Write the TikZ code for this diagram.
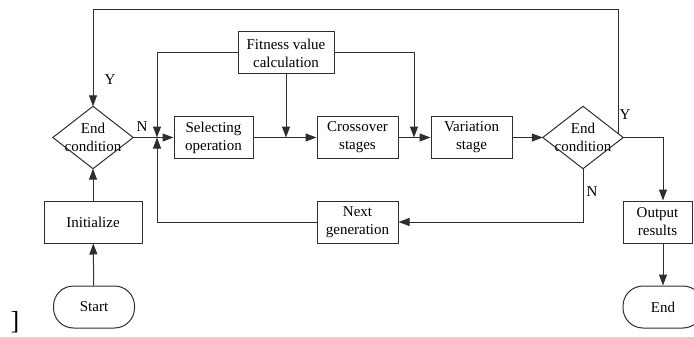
\documentclass[tikz,border=0pt]{standalone}
\usepackage{fontspec}
\setmainfont{Liberation Serif}
\usetikzlibrary{arrows.meta,calc}
\definecolor{lc}{HTML}{2E2E2E}
\begin{document}
\begin{tikzpicture}[x=1pt,y=-1pt,
  every node/.style={font=\fontsize{15}{18}\selectfont, text=black},
  box/.style={draw=lc, line width=1pt, align=center, inner sep=0pt, minimum height=42pt},
  term/.style={draw=lc, line width=1pt, align=center, inner sep=0pt, minimum height=42pt, rounded corners=20pt},
  dec/.style={align=center, inner sep=0pt, minimum width=80pt, minimum height=62pt},
  ln/.style={draw=lc, line width=1pt},
  arr/.style={draw=lc, line width=1pt, -{Triangle[length=11pt,width=8pt]}},
  lbl/.style={inner sep=0pt}]
\useasboundingbox (0,0) rectangle (694,337);
% nodes
\node[term, minimum width=81pt] (start) at (94,307) {Start};
\node[box, minimum width=98pt] (init) at (93,222) {Initialize};
\node[dec] (d1) at (93,137.5) {End\\condition};
\node[box, minimum width=79pt] (sel) at (213.5,137.5) {Selecting\\operation};
\node[box, minimum width=96pt] (fit) at (286,53) {Fitness value\\calculation};
\node[box, minimum width=81pt] (cro) at (357.5,137.5) {Crossover\\stages};
\node[box, minimum width=81pt] (var) at (471.5,137.5) {Variation\\stage};
\node[dec] (d2) at (583,137.5) {End\\condition};
\node[box, minimum width=81pt] (next) at (357.5,222) {Next\\generation};
\node[box, minimum width=69pt] (out) at (657.5,222) {Output\\results};
\node[term, minimum width=80pt] (end) at (663,307) {End};
\node[lbl, font=\fontsize{26}{28}\selectfont] (br) at (15,322) {]};
% diamonds
\draw[ln] (d1.north) -- (d1.east) -- (d1.south) -- (d1.west) -- cycle;
\draw[ln] (d2.north) -- (d2.east) -- (d2.south) -- (d2.west) -- cycle;
% labels
\node[lbl] (y1) at (110,80) {Y};
\node[lbl] (n1) at (142,127) {N};
\node[lbl] (y2) at (625,115) {Y};
\node[lbl] (n2) at (592,192) {N};
% coordinates
\coordinate (jL) at (157,137.5);
\coordinate (jM) at (fit.south |- sel.east);
\coordinate (jR) at (414,137.5);
\coordinate (yUp) at ($(d2.east)+(-5,-3.9)$);
\coordinate (topL) at (93,10);
\coordinate (oT) at (end.north |- out.north);
\coordinate (oB) at (end.north |- out.south);
% connectors
\draw[arr] (start) -- (init);
\draw[arr] (init) -- (d1.south);
\draw[arr] (d1.east) -- (sel.west);
\draw[arr] (fit.west) -| (jL);
\draw[arr] (next.west) -| (jL);
\draw[arr] (sel) -- (cro);
\draw[arr] (fit.south) -- (jM);
\draw[arr] (fit.east) -| (jR);
\draw[arr] (cro) -- (var);
\draw[arr] (var) -- (d2.west);
\draw[arr] (d2.south) |- (next.east);
\draw[arr] (d2.east) -| (oT);
\draw[arr] (oB) -- (end.north);
\draw[arr] (yUp) |- (topL) -- (d1.north);
\end{tikzpicture}
\end{document}
